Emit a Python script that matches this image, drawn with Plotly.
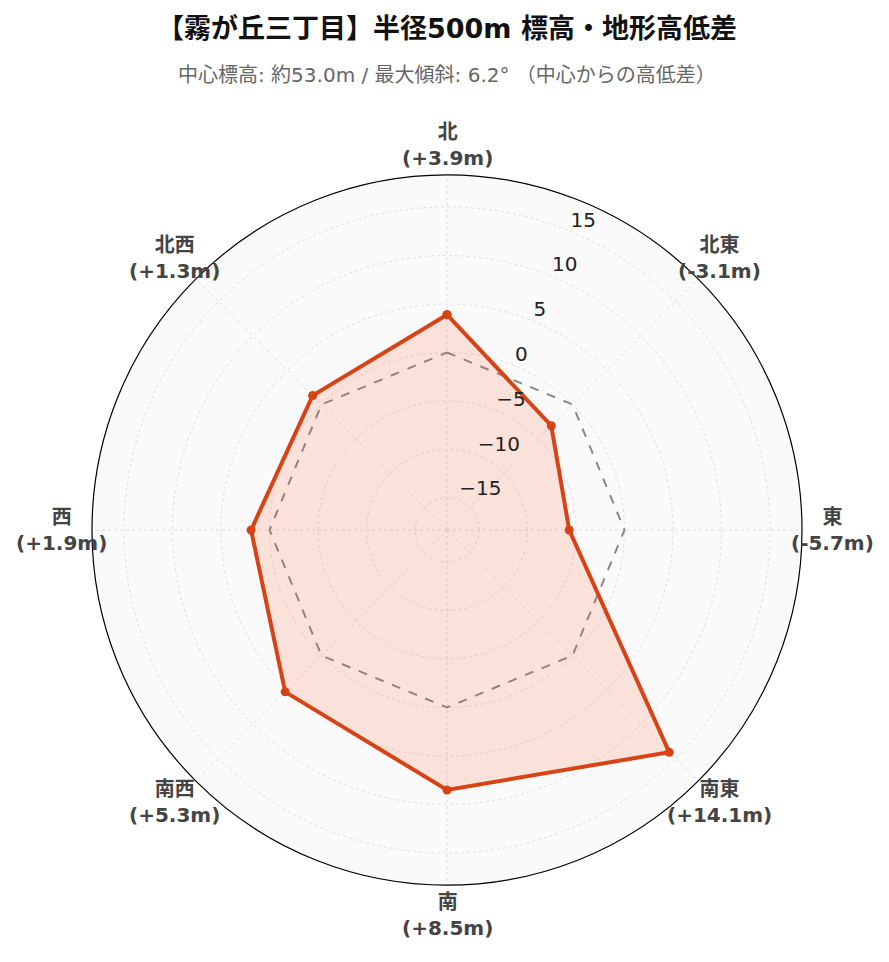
import math
import plotly.graph_objects as go

directions = ["北", "北東", "東", "南東", "南", "南西", "西", "北西"]
angles = [0, 45, 90, 135, 180, 225, 270, 315]
diffs = [3.9, -3.1, -5.7, 14.1, 8.5, 5.3, 1.9, 1.3]
baseline = [0, 0, 0, 0, 0, 0, 0, 0]
radial_ticks = [-15, -10, -5, 0, 5, 10, 15]
radial_range = [-18.3, 18.3]

title_text = "【霧が丘三丁目】半径500m 標高・地形高低差"
subtitle_text = "中心標高: 約53.0m / 最大傾斜: 6.2° （中心からの高低差）"

FONT = "DejaVu Sans, Noto Sans CJK JP, sans-serif"

dir_labels = [f"<b>{d}</b><br><b>({v:+.1f}m)</b>" for d, v in zip(directions, diffs)]
radial_labels = [str(v).replace("-", "\u2212") for v in radial_ticks]

W, H = 889, 962
M = dict(l=84, r=95, t=167, b=85)
plot_w = W - M["l"] - M["r"]
plot_h = H - M["t"] - M["b"]
label_dist_px = min(plot_w, plot_h) / 2 + 30

fig = go.Figure()
fig.add_trace(go.Scatterpolar(
    r=baseline + baseline[:1], theta=angles + angles[:1],
    mode="lines", line=dict(color="#888888", width=2, dash="dash"),
    hoverinfo="skip", showlegend=False,
))
fig.add_trace(go.Scatterpolar(
    r=diffs + diffs[:1], theta=angles + angles[:1],
    mode="lines+markers", fill="toself",
    fillcolor="rgba(255,87,34,0.15)",
    line=dict(color="#D84315", width=4),
    marker=dict(color="#D84315", size=9),
    showlegend=False,
))
# radial tick labels along the 22.5° spoke
fig.add_trace(go.Scatterpolar(
    r=radial_ticks, theta=[22.5] * len(radial_ticks),
    mode="text", text=radial_labels, textposition="top right",
    textfont=dict(size=20, color="#222222", family=FONT),
    hoverinfo="skip", showlegend=False, cliponaxis=False,
))

annotations = [
    dict(text=f"<b>{title_text}</b>", x=0.5, y=1, xref="paper", yref="paper",
         xanchor="center", yanchor="middle", yshift=147, showarrow=False,
         font=dict(size=27, color="#111111", family=FONT)),
    dict(text=subtitle_text, x=0.5, y=1, xref="paper", yref="paper",
         xanchor="center", yanchor="middle", yshift=100, showarrow=False,
         font=dict(size=20, color="#666666", family=FONT)),
]
# direction labels centred just outside the outer circle
for ang, lab in zip(angles, dir_labels):
    a = math.radians(ang)
    annotations.append(dict(
        text=lab, xref="paper", yref="paper",
        x=0.5 + label_dist_px * math.sin(a) / plot_w,
        y=0.5 + label_dist_px * math.cos(a) / plot_h,
        xanchor="center", yanchor="middle", align="center", showarrow=False,
        font=dict(size=20, color="#444444", family=FONT),
    ))

fig.update_layout(
    width=W, height=H,
    margin=M,
    paper_bgcolor="white",
    font=dict(family=FONT, size=20, color="#222222"),
    showlegend=False,
    polar=dict(
        bgcolor="#fafafa",
        angularaxis=dict(
            direction="clockwise", rotation=90,
            tickmode="array", tickvals=angles, showticklabels=False,
            showline=True, linecolor="black", linewidth=1.2,
            gridcolor="#dddddd", griddash="dot", ticks="",
        ),
        radialaxis=dict(
            range=radial_range, angle=67.5,
            tickmode="array", tickvals=radial_ticks, showticklabels=False,
            showline=False, ticks="",
            gridcolor="#dddddd", griddash="dot",
        ),
    ),
    annotations=annotations,
)

fig.write_html("out.html")
